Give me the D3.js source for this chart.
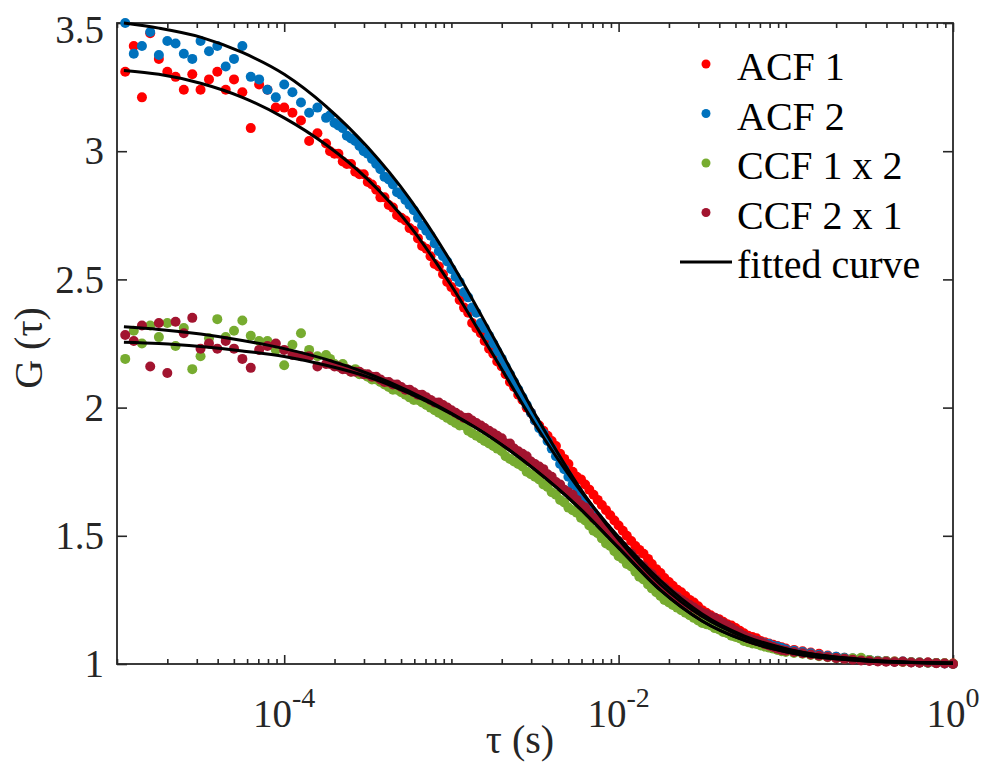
<!DOCTYPE html>
<html>
<head>
<meta charset="utf-8">
<script src="https://cdn.jsdelivr.net/npm/d3@7"></script>
<style>
  body { margin: 0; background: #fff; }
</style>
</head>
<body>
<div id="chart"></div>
<script>
// lag times (s) shared by the four correlation curves
const lagTimes = [
  // 0.05 decade steps
  1.12e-5, 1.26e-5, 1.41e-5, 1.58e-5, 1.78e-5, 2.00e-5, 2.24e-5, 2.51e-5, 2.82e-5, 3.16e-5,
  3.55e-5, 3.98e-5, 4.47e-5, 5.01e-5, 5.62e-5, 6.31e-5, 7.08e-5, 7.94e-5, 8.91e-5, 1.00e-4,
  1.12e-4, 1.26e-4, 1.41e-4, 1.58e-4, 1.78e-4,
  // 0.025 decade steps
  1.88e-4, 2.00e-4, 2.11e-4, 2.24e-4, 2.37e-4, 2.51e-4, 2.66e-4, 2.82e-4, 2.99e-4, 3.16e-4,
  3.35e-4, 3.55e-4, 3.76e-4, 3.98e-4, 4.22e-4, 4.47e-4, 4.73e-4, 5.01e-4, 5.31e-4, 5.62e-4,
  5.96e-4, 6.31e-4, 6.68e-4, 7.08e-4, 7.50e-4, 7.94e-4, 8.41e-4, 8.91e-4, 9.44e-4, 1.00e-3,
  1.06e-3, 1.12e-3, 1.19e-3, 1.26e-3, 1.33e-3, 1.41e-3, 1.50e-3, 1.58e-3, 1.68e-3, 1.78e-3,
  1.88e-3, 2.00e-3, 2.11e-3, 2.24e-3, 2.37e-3, 2.51e-3, 2.66e-3, 2.82e-3, 2.99e-3, 3.16e-3,
  3.35e-3, 3.55e-3, 3.76e-3, 3.98e-3, 4.22e-3, 4.47e-3, 4.73e-3, 5.01e-3, 5.31e-3, 5.62e-3,
  5.96e-3, 6.31e-3, 6.68e-3, 7.08e-3, 7.50e-3, 7.94e-3, 8.41e-3, 8.91e-3, 9.44e-3, 1.00e-2,
  1.06e-2, 1.12e-2, 1.19e-2, 1.26e-2, 1.33e-2, 1.41e-2, 1.50e-2, 1.58e-2, 1.68e-2, 1.78e-2,
  1.88e-2, 2.00e-2, 2.11e-2, 2.24e-2, 2.37e-2, 2.51e-2, 2.66e-2, 2.82e-2, 2.99e-2, 3.16e-2,
  3.35e-2, 3.55e-2, 3.76e-2, 3.98e-2, 4.22e-2, 4.47e-2, 4.73e-2, 5.01e-2, 5.31e-2, 5.62e-2,
  5.96e-2, 6.31e-2, 6.68e-2, 7.08e-2, 7.50e-2, 7.94e-2, 8.41e-2, 8.91e-2, 9.44e-2, 1.00e-1,
  // 0.05 decade steps
  1.12e-1, 1.26e-1, 1.41e-1, 1.58e-1, 1.78e-1, 2.00e-1, 2.24e-1, 2.51e-1, 2.82e-1, 3.16e-1,
  3.55e-1, 3.98e-1, 4.47e-1, 5.01e-1, 5.62e-1, 6.31e-1, 7.08e-1, 7.94e-1, 8.91e-1, 1.00
];

const acf1 = [
  3.31, 3.41, 3.21, 3.46, 3.36, 3.31, 3.29, 3.24, 3.30, 3.24,
  3.28, 3.31, 3.24, 3.28, 3.23, 3.09, 3.26, 3.24, 3.17, 3.17,
  3.15, 3.12, 3.04, 3.07, 3.03,
  3.00, 2.99, 2.99, 2.96, 2.95, 2.95, 2.92, 2.91, 2.91, 2.88,
  2.87, 2.85, 2.82, 2.82, 2.79, 2.78, 2.75, 2.74, 2.73, 2.70,
  2.69, 2.66, 2.63, 2.62, 2.59, 2.56, 2.55, 2.52, 2.49, 2.47,
  2.45, 2.42, 2.39, 2.37, 2.33, 2.31, 2.29, 2.26, 2.23, 2.21,
  2.18, 2.16, 2.13, 2.10, 2.08, 2.05, 2.03, 2.00, 1.98, 1.95,
  1.93, 1.91, 1.89, 1.87, 1.85, 1.82, 1.80, 1.78, 1.75, 1.73,
  1.72, 1.70, 1.68, 1.66, 1.64, 1.62, 1.60, 1.58, 1.56, 1.54,
  1.52, 1.50, 1.48, 1.46, 1.445, 1.43, 1.41, 1.39, 1.37, 1.355,
  1.335, 1.32, 1.305, 1.29, 1.28, 1.265, 1.25, 1.24, 1.225, 1.21,
  1.20, 1.19, 1.18, 1.175, 1.165, 1.155, 1.15, 1.14, 1.13, 1.12,
  1.11, 1.105, 1.10, 1.09, 1.085, 1.08, 1.075, 1.07, 1.065, 1.06,
  1.055, 1.05, 1.045, 1.04, 1.033, 1.028, 1.024, 1.02, 1.017, 1.014,
  1.012, 1.012, 1.01, 1.008, 1.007, 1.006, 1.006, 1.004, 1.003, 1.002
];

const acf2 = [
  3.50, 3.38, 3.41, 3.465, 3.375, 3.43, 3.42, 3.38, 3.36, 3.43,
  3.39, 3.41, 3.33, 3.36, 3.41, 3.29, 3.28, 3.24, 3.21, 3.26,
  3.23, 3.19, 3.15, 3.17, 3.13,
  3.14, 3.11, 3.10, 3.09, 3.06, 3.05, 3.04, 3.02, 3.00, 2.99,
  2.97, 2.95, 2.93, 2.90, 2.89, 2.87, 2.84, 2.83, 2.81, 2.79,
  2.77, 2.74, 2.71, 2.69, 2.67, 2.64, 2.61, 2.59, 2.57, 2.54,
  2.51, 2.49, 2.45, 2.43, 2.39, 2.37, 2.33, 2.31, 2.28, 2.25,
  2.22, 2.19, 2.16, 2.13, 2.10, 2.07, 2.04, 2.01, 1.98, 1.95,
  1.92, 1.90, 1.87, 1.84, 1.81, 1.78, 1.76, 1.73, 1.70, 1.67,
  1.65, 1.63, 1.61, 1.59, 1.57, 1.55, 1.53, 1.51, 1.49, 1.47,
  1.455, 1.44, 1.42, 1.405, 1.39, 1.37, 1.355, 1.34, 1.32, 1.305,
  1.295, 1.28, 1.27, 1.26, 1.245, 1.235, 1.225, 1.21, 1.20, 1.185,
  1.18, 1.17, 1.16, 1.155, 1.145, 1.14, 1.13, 1.12, 1.115, 1.105,
  1.10, 1.095, 1.09, 1.085, 1.08, 1.078, 1.07, 1.068, 1.062, 1.057,
  1.052, 1.047, 1.042, 1.036, 1.031, 1.028, 1.024, 1.021, 1.018, 1.016,
  1.013, 1.011, 1.009, 1.01, 1.007, 1.006, 1.005, 1.004, 1.002, 1.0
];

const ccf12 = [
  2.19, 2.30, 2.25, 2.32, 2.275, 2.33, 2.24, 2.31, 2.15, 2.20,
  2.27, 2.345, 2.275, 2.30, 2.34, 2.28, 2.26, 2.26, 2.225, 2.165,
  2.245, 2.29, 2.225, 2.20, 2.205,
  2.19, 2.17, 2.16, 2.17, 2.15, 2.14, 2.15, 2.13, 2.13, 2.12,
  2.11, 2.11, 2.10, 2.09, 2.08, 2.07, 2.07, 2.06, 2.05, 2.04,
  2.03, 2.03, 2.02, 2.01, 2.00, 1.99, 1.98, 1.97, 1.96, 1.95,
  1.94, 1.93, 1.93, 1.91, 1.90, 1.89, 1.88, 1.87, 1.86, 1.85,
  1.84, 1.83, 1.81, 1.80, 1.79, 1.78, 1.77, 1.75, 1.74, 1.73,
  1.72, 1.70, 1.69, 1.67, 1.66, 1.64, 1.63, 1.61, 1.60, 1.59,
  1.57, 1.56, 1.54, 1.52, 1.51, 1.49, 1.47, 1.46, 1.44, 1.42,
  1.41, 1.39, 1.38, 1.36, 1.34, 1.33, 1.31, 1.295, 1.28, 1.265,
  1.25, 1.24, 1.23, 1.22, 1.21, 1.20, 1.19, 1.18, 1.17, 1.16,
  1.155, 1.15, 1.14, 1.135, 1.125, 1.12, 1.11, 1.105, 1.10, 1.09,
  1.085, 1.08, 1.078, 1.072, 1.068, 1.064, 1.06, 1.055, 1.05, 1.047,
  1.043, 1.04, 1.035, 1.03, 1.026, 1.023, 1.021, 1.022, 1.024, 1.016,
  1.012, 1.011, 1.01, 1.009, 1.007, 1.006, 1.005, 1.004, 1.003, 1.001
];

const ccf21 = [
  2.283, 2.26, 2.32, 2.16, 2.33, 2.135, 2.335, 2.29, 2.35, 2.23,
  2.25, 2.23, 2.26, 2.23, 2.19, 2.155, 2.225, 2.24, 2.25, 2.225,
  2.205, 2.20, 2.20, 2.16, 2.17,
  2.17, 2.16, 2.16, 2.15, 2.15, 2.14, 2.14, 2.14, 2.13, 2.13,
  2.12, 2.12, 2.11, 2.10, 2.10, 2.09, 2.09, 2.08, 2.07, 2.07,
  2.06, 2.05, 2.05, 2.04, 2.03, 2.02, 2.02, 2.01, 2.00, 1.99,
  1.98, 1.97, 1.96, 1.96, 1.95, 1.94, 1.93, 1.92, 1.91, 1.90,
  1.89, 1.88, 1.86, 1.86, 1.84, 1.83, 1.82, 1.81, 1.79, 1.78,
  1.77, 1.76, 1.74, 1.73, 1.71, 1.70, 1.68, 1.67, 1.66, 1.64,
  1.62, 1.61, 1.59, 1.57, 1.56, 1.54, 1.53, 1.51, 1.49, 1.48,
  1.46, 1.44, 1.43, 1.41, 1.39, 1.38, 1.36, 1.35, 1.33, 1.31,
  1.30, 1.285, 1.27, 1.26, 1.25, 1.24, 1.23, 1.22, 1.21, 1.20,
  1.195, 1.185, 1.18, 1.17, 1.16, 1.15, 1.14, 1.13, 1.12, 1.11,
  1.10, 1.095, 1.09, 1.085, 1.078, 1.072, 1.066, 1.06, 1.055, 1.052,
  1.047, 1.042, 1.037, 1.032, 1.027, 1.023, 1.02, 1.017, 1.014, 1.012,
  1.01, 1.009, 1.008, 1.01, 1.006, 1.005, 1.006, 1.003, 1.002, 1.0
];

// fitted model curves, sampled every quarter decade
const fitLag = [
  1.1e-5, 1.78e-5, 3.16e-5, 5.62e-5, 1e-4, 1.78e-4, 3.16e-4, 5.62e-4, 1e-3, 1.78e-3, 3.16e-3,
  5.62e-3, 1e-2, 1.78e-2, 3.16e-2, 5.62e-2, 0.1, 0.178, 0.316, 0.562, 1
];
const fitAcf1 = [3.315, 3.30, 3.265, 3.21, 3.13, 3.025, 2.89, 2.71, 2.475, 2.205, 1.935, 1.695, 1.495, 1.325, 1.195, 1.11, 1.06, 1.03, 1.014, 1.006, 1.003];
const fitAcf2 = [3.50, 3.48, 3.445, 3.385, 3.30, 3.175, 3.015, 2.815, 2.565, 2.275, 1.975, 1.705, 1.485, 1.31, 1.185, 1.105, 1.058, 1.031, 1.016, 1.007, 1.003];
const fitCcf12 = [2.315, 2.305, 2.287, 2.262, 2.23, 2.188, 2.133, 2.063, 1.978, 1.878, 1.758, 1.618, 1.453, 1.288, 1.168, 1.093, 1.048, 1.023, 1.011, 1.006, 1.003];
const fitCcf21 = [2.255, 2.25, 2.238, 2.221, 2.199, 2.165, 2.12, 2.055, 1.975, 1.878, 1.758, 1.618, 1.453, 1.288, 1.168, 1.093, 1.048, 1.023, 1.011, 1.006, 1.004];

const seriesNames = ['ACF 1', 'ACF 2', 'CCF 1 x 2', 'CCF 2 x 1'];
const seriesColors = ['#ff0000', '#0072bd', '#77ac30', '#a2142f'];
const seriesValues = [acf1, acf2, ccf12, ccf21];
const fitValues = [fitAcf1, fitAcf2, fitCcf12, fitCcf21];

const yTicks = [1, 1.5, 2, 2.5, 3, 3.5];
const xMajor = [1e-4, 1e-2, 1];
const xMajorExp = ['-4', '-2', '0'];

const width = 983, height = 762;
const margin = { top: 23, right: 30, bottom: 98, left: 117 };
const axisColor = '#262626';
const serif = 'Liberation Serif';

const svg = d3.select('#chart')
  .append('svg')
  .attr('width', width)
  .attr('height', height);

const x = d3.scaleLog()
  .domain([1e-5, 1])
  .range([margin.left, width - margin.right]);

const y = d3.scaleLinear()
  .domain([1, 3.5])
  .range([height - margin.bottom, margin.top]);

const x0 = margin.left, x1 = width - margin.right;
const y0 = height - margin.bottom, y1 = margin.top;

// minor ticks on the log axis: every 1..9 x 10^n that is not a labelled decade
const xMinor = x.ticks().filter(t => !xMajor.some(m => Math.abs(t - m) / m < 1e-6));

function styleAxis(g) {
  g.select('.domain').remove();
  g.selectAll('.tick line').attr('stroke', axisColor).attr('stroke-width', 1.6);
}

// ticks, all pointing inward
svg.append('g').attr('transform', `translate(0,${y0})`)
  .call(d3.axisBottom(x).tickValues(xMajor).tickSizeInner(-9).tickSizeOuter(0).tickFormat(''))
  .call(styleAxis);
svg.append('g').attr('transform', `translate(0,${y0})`)
  .call(d3.axisBottom(x).tickValues(xMinor).tickSizeInner(-5).tickSizeOuter(0).tickFormat(''))
  .call(styleAxis);
svg.append('g').attr('transform', `translate(0,${y1})`)
  .call(d3.axisTop(x).tickValues(xMajor).tickSizeInner(-9).tickSizeOuter(0).tickFormat(''))
  .call(styleAxis);
svg.append('g').attr('transform', `translate(0,${y1})`)
  .call(d3.axisTop(x).tickValues(xMinor).tickSizeInner(-5).tickSizeOuter(0).tickFormat(''))
  .call(styleAxis);
svg.append('g').attr('transform', `translate(${x0},0)`)
  .call(d3.axisLeft(y).tickValues(yTicks).tickSizeInner(-10).tickSizeOuter(0).tickFormat(''))
  .call(styleAxis);
svg.append('g').attr('transform', `translate(${x1},0)`)
  .call(d3.axisRight(y).tickValues(yTicks).tickSizeInner(-10).tickSizeOuter(0).tickFormat(''))
  .call(styleAxis);

// box
svg.append('rect')
  .attr('x', x0).attr('y', y1)
  .attr('width', x1 - x0).attr('height', y0 - y1)
  .attr('fill', 'none')
  .attr('stroke', axisColor)
  .attr('stroke-width', 1.8);

// tick labels
svg.selectAll('text.ylab')
  .data(yTicks)
  .join('text')
  .attr('class', 'ylab')
  .attr('x', x0 - 13)
  .attr('y', d => Math.max(y(d), 30)) // top label kept inside the figure
  .attr('dy', '0.34em')
  .attr('text-anchor', 'end')
  .attr('font-family', serif)
  .attr('font-size', 39)
  .attr('fill', axisColor)
  .text(d => d3.format('~g')(d));

const xl = svg.selectAll('text.xlab')
  .data(xMajor)
  .join('text')
  .attr('class', 'xlab')
  .attr('x', d => x(d))
  .attr('y', 727)
  .attr('text-anchor', 'middle')
  .attr('font-family', serif)
  .attr('font-size', 39)
  .attr('fill', axisColor);
xl.append('tspan').text('10');
xl.append('tspan')
  .attr('font-size', 28)
  .attr('dy', -20)
  .text((d, i) => xMajorExp[i]);

// axis titles
svg.append('text')
  .attr('x', 520)
  .attr('y', 753)
  .attr('text-anchor', 'middle')
  .attr('font-family', serif)
  .attr('font-size', 40)
  .attr('fill', axisColor)
  .text('τ (s)');

svg.append('text')
  .attr('transform', 'translate(42,348) rotate(-90)')
  .attr('text-anchor', 'middle')
  .attr('font-family', serif)
  .attr('font-size', 40)
  .attr('fill', axisColor)
  .text('G (τ)');

// data points
seriesValues.forEach((vals, s) => {
  svg.append('g')
    .selectAll('circle')
    .data(vals.map((g, i) => ({ t: lagTimes[i], g })))
    .join('circle')
    .attr('cx', d => x(d.t))
    .attr('cy', d => y(d.g))
    .attr('r', 5)
    .attr('fill', seriesColors[s]);
});

// fitted curves
const line = d3.line()
  .x(d => x(d.t))
  .y(d => y(d.g))
  .curve(d3.curveMonotoneX);

fitValues.forEach(vals => {
  svg.append('path')
    .datum(vals.map((g, i) => ({ t: fitLag[i], g })))
    .attr('d', line)
    .attr('fill', 'none')
    .attr('stroke', '#000')
    .attr('stroke-width', 3);
});

// legend
const legend = svg.append('g');
const rowH = 49.5;
seriesNames.forEach((name, i) => {
  legend.append('circle')
    .attr('cx', 706)
    .attr('cy', 64 + i * rowH)
    .attr('r', 4.5)
    .attr('fill', seriesColors[i]);
  legend.append('text')
    .attr('x', 737)
    .attr('y', 80 + i * rowH)
    .attr('font-family', serif)
    .attr('font-size', 40)
    .attr('fill', '#000')
    .text(name);
});
legend.append('line')
  .attr('x1', 680).attr('x2', 732)
  .attr('y1', 64 + 4 * rowH).attr('y2', 64 + 4 * rowH)
  .attr('stroke', '#000')
  .attr('stroke-width', 3);
legend.append('text')
  .attr('x', 737)
  .attr('y', 80 + 4 * rowH)
  .attr('font-family', serif)
  .attr('font-size', 40)
  .attr('fill', '#000')
  .text('fitted curve');
</script>
</body>
</html>
